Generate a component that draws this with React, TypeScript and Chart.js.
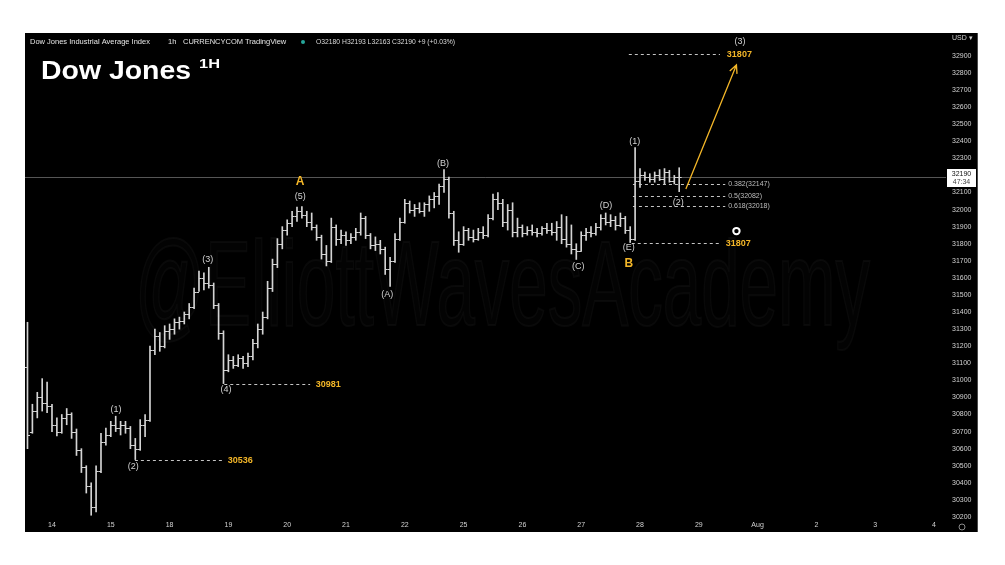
import React, { useEffect, useRef } from 'react';
import { Chart, registerables } from 'chart.js';

Chart.register(...registerables);

// ---------- data ----------
const HOURS_PER_BAR = 2;
const axisDates = ['14', '15', '18', '19', '20', '21', '22', '25', '26', '27', '28', '29', 'Aug', '2', '3', '4'];
const priceTicks = [
  30200, 30300, 30400, 30500, 30600, 30700, 30800, 30900, 31000, 31100,
  31200, 31300, 31400, 31500, 31600, 31700, 31800, 31900, 32000, 32100,
  32200, 32300, 32400, 32500, 32600, 32700, 32800, 32900,
];

// [open, high, low, close]
const jul13 = [
  [31080, 31340, 30600, 30680], [30700, 30860, 30690, 30820], [30820, 30930, 30780, 30900],
  [30900, 31010, 30820, 30870], [30870, 30990, 30810, 30850],
];
const jul14 = [
  [30850, 30860, 30700, 30740], [30740, 30780, 30675, 30700], [30700, 30800, 30690, 30780],
  [30780, 30835, 30740, 30800], [30800, 30810, 30660, 30700], [30700, 30715, 30560, 30590],
  [30590, 30600, 30460, 30490], [30490, 30500, 30340, 30380], [30380, 30400, 30210, 30260],
  [30260, 30500, 30230, 30470], [30470, 30690, 30460, 30640], [30640, 30720, 30620, 30680],
];
const jul15 = [
  [30680, 30760, 30670, 30740], [30740, 30790, 30700, 30720], [30720, 30760, 30680, 30740],
  [30740, 30760, 30690, 30720], [30720, 30730, 30600, 30620], [30620, 30660, 30536, 30600],
  [30600, 30770, 30590, 30740], [30740, 30800, 30670, 30770], [30770, 31200, 30760, 31180],
  [31180, 31300, 31150, 31260], [31260, 31280, 31170, 31200], [31200, 31320, 31190, 31290],
];
const jul18 = [
  [31290, 31330, 31240, 31300], [31300, 31360, 31270, 31340], [31340, 31370, 31300, 31350],
  [31350, 31400, 31330, 31390], [31390, 31450, 31360, 31430], [31430, 31540, 31420, 31520],
  [31520, 31640, 31520, 31600], [31600, 31630, 31530, 31570], [31570, 31662, 31540, 31560],
  [31560, 31570, 31420, 31440], [31440, 31450, 31240, 31280], [31280, 31290, 30981, 31060],
];
const jul19 = [
  [31060, 31150, 31050, 31120], [31120, 31140, 31070, 31090], [31090, 31150, 31080, 31130],
  [31130, 31140, 31070, 31100], [31100, 31160, 31080, 31140], [31140, 31240, 31120, 31220],
  [31220, 31330, 31190, 31300], [31300, 31400, 31270, 31370], [31370, 31580, 31360, 31540],
  [31540, 31710, 31520, 31680], [31680, 31830, 31660, 31800], [31800, 31900, 31770, 31880],
];
const jul20 = [
  [31880, 31940, 31850, 31920], [31920, 31990, 31900, 31960], [31960, 32015, 31930, 31990],
  [31990, 32018, 31950, 31970], [31970, 31990, 31900, 31930], [31930, 31980, 31880, 31900],
  [31900, 31910, 31820, 31840], [31840, 31850, 31710, 31740], [31740, 31790, 31670, 31700],
  [31700, 31950, 31690, 31900], [31900, 31910, 31790, 31830], [31830, 31880, 31800, 31850],
];
const jul21 = [
  [31850, 31870, 31790, 31820], [31820, 31860, 31800, 31840], [31840, 31890, 31820, 31870],
  [31870, 31980, 31850, 31950], [31950, 31960, 31830, 31850], [31850, 31860, 31770, 31790],
  [31790, 31840, 31760, 31800], [31800, 31820, 31740, 31770], [31770, 31780, 31620, 31650],
  [31650, 31720, 31550, 31700], [31700, 31860, 31690, 31830], [31830, 31950, 31820, 31930],
];
const jul22 = [
  [31930, 32060, 31920, 32040], [32040, 32050, 31980, 32000], [32000, 32030, 31960, 32010],
  [32010, 32040, 31980, 31990], [31990, 32040, 31960, 32030], [32030, 32080, 31990, 32060],
  [32060, 32100, 32010, 32080], [32080, 32150, 32030, 32140], [32140, 32234, 32100, 32180],
  [32180, 32190, 31950, 31980], [31980, 31990, 31790, 31820], [31820, 31870, 31750, 31800],
];
const jul25 = [
  [31800, 31900, 31790, 31880], [31880, 31890, 31820, 31840], [31840, 31880, 31810, 31830],
  [31830, 31890, 31820, 31870], [31870, 31900, 31830, 31850], [31850, 31970, 31840, 31950],
  [31950, 32090, 31940, 32060], [32060, 32100, 32000, 32040], [32040, 32060, 31900, 31930],
  [31930, 32030, 31880, 32000], [32000, 32040, 31840, 31870], [31870, 31950, 31840, 31900],
];
const jul26 = [
  [31900, 31910, 31840, 31860], [31860, 31900, 31850, 31880], [31880, 31910, 31850, 31870],
  [31870, 31890, 31840, 31860], [31860, 31900, 31850, 31890], [31890, 31920, 31860, 31880],
  [31880, 31920, 31850, 31870], [31870, 31930, 31820, 31900], [31900, 31970, 31800, 31830],
  [31830, 31960, 31780, 31800], [31800, 31910, 31740, 31770], [31770, 31800, 31708, 31760],
];
const jul27 = [
  [31760, 31870, 31755, 31850], [31850, 31890, 31820, 31870], [31870, 31900, 31840, 31860],
  [31860, 31920, 31850, 31900], [31900, 31970, 31880, 31950], [31950, 31980, 31910, 31930],
  [31930, 31970, 31900, 31940], [31940, 31960, 31880, 31910], [31910, 31980, 31900, 31950],
  [31950, 31960, 31860, 31880], [31880, 31900, 31807, 31830], [31830, 32363, 31820, 32170],
];
const jul28 = [
  [32170, 32240, 32130, 32200], [32200, 32220, 32170, 32190], [32190, 32210, 32160, 32180],
  [32180, 32220, 32160, 32200], [32200, 32234, 32170, 32180], [32180, 32240, 32150, 32220],
  [32220, 32230, 32160, 32170], [32170, 32200, 32150, 32190], [32190, 32245, 32105, 32190],
];

// trading-day index on the axis (0 = Jul 14) and first bar hour
const sessions = [
  { day: -1, firstHour: 14, bars: jul13 },
  { day: 0, firstHour: 0, bars: jul14 },
  { day: 1, firstHour: 0, bars: jul15 },
  { day: 2, firstHour: 0, bars: jul18 },
  { day: 3, firstHour: 0, bars: jul19 },
  { day: 4, firstHour: 0, bars: jul20 },
  { day: 5, firstHour: 0, bars: jul21 },
  { day: 6, firstHour: 0, bars: jul22 },
  { day: 7, firstHour: 0, bars: jul25 },
  { day: 8, firstHour: 0, bars: jul26 },
  { day: 9, firstHour: 0, bars: jul27 },
  { day: 10, firstHour: 0, bars: jul28 },
];

const lastPrice = 32190;
const countdown = '47:34';
const headerParts = ['Dow Jones Industrial Average Index', '1h', 'CURRENCYCOM', 'TradingView'];
const ohlcText = 'O32180 H32193 L32163 C32190 +9 (+0.03%)';

const waveLabels = [
  { text: '(1)', x: 1.09, y: 30827 },
  { text: '(2)', x: 1.38, y: 30494 },
  { text: '(3)', x: 2.65, y: 31708 },
  { text: '(4)', x: 2.96, y: 30949 },
  { text: '(5)', x: 4.22, y: 32076 },
  { text: '(A)', x: 5.70, y: 31504 },
  { text: '(B)', x: 6.65, y: 32269 },
  { text: '(C)', x: 8.95, y: 31668 },
  { text: '(D)', x: 9.42, y: 32024 },
  { text: '(E)', x: 9.81, y: 31779 },
  { text: '(1)', x: 9.91, y: 32398 },
  { text: '(2)', x: 10.65, y: 32041 },
  { text: '(3)', x: 11.70, y: 32982 },
];
const keyLabels = [
  { text: 'A', x: 4.22, y: 32164 },
  { text: 'B', x: 9.81, y: 31685 },
];
const levelLines = [
  { price: 30536, from: 1.41, to: 2.91, label: '30536', labelAt: 3.20 },
  { price: 30981, from: 2.93, to: 4.39, label: '30981', labelAt: 4.70 },
  { price: 31807, from: 9.86, to: 11.39, label: '31807', labelAt: 11.67 },
  { price: 32910, from: 9.81, to: 11.36, label: '31807', labelAt: 11.69 },
];
const fibLevels = [
  { ratio: '0.382', price: 32147 },
  { ratio: '0.5', price: 32082 },
  { ratio: '0.618', price: 32018 },
];
const fibSpan = { from: 9.88, to: 11.45, labelAt: 11.50 };
const projection = { x1: 10.78, y1: 32121, x2: 11.64, y2: 32847 };
const targetMarker = { x: 11.64, y: 31874 };

// ---------- styles ----------
const FONT = '"Liberation Sans", Arial, sans-serif';
const BAR_COLOR = '#d4d4d4';
const TEXT_COLOR = '#d2d2d2';
const YELLOW = '#f3b628';
const X_MIN = -0.459;
const X_MAX = 15.204;
const Y_MIN = 30188;
const Y_MAX = 33034;

const bars = sessions.flatMap((s) =>
  s.bars.map((b, i) => ({
    x: s.day + (s.firstHour + i * HOURS_PER_BAR) / 24,
    o: b[0], h: b[1], l: b[2], c: b[3],
  }))
);

function fitText(ctx: any, text: string, x: number, y: number, width: number) {
  const w = ctx.measureText(text).width;
  ctx.save();
  ctx.translate(x, y);
  ctx.scale(width / w, 1);
  ctx.fillText(text, 0, 0);
  ctx.restore();
}

const overlay = {
  id: 'overlay',
  beforeDatasetsDraw(chart: any) {
    const { ctx, chartArea } = chart;
    const sy = chart.scales.y;
    ctx.save();
    // watermark
    ctx.font = `120px ${FONT}`;
    const wm = '@ElliottWavesAcademy';
    const w = ctx.measureText(wm).width;
    ctx.translate(110, 292);
    ctx.scale(735 / w, 1);
    ctx.textAlign = 'left';
    ctx.textBaseline = 'alphabetic';
    ctx.fillStyle = 'rgba(255,255,255,0.012)';
    ctx.fillText(wm, 0, 0);
    ctx.strokeStyle = 'rgba(255,255,255,0.035)';
    ctx.lineWidth = 2;
    ctx.strokeText(wm, 0, 0);
    ctx.restore();

    // last price line
    ctx.save();
    const py = Math.round(sy.getPixelForValue(lastPrice)) + 0.5;
    ctx.strokeStyle = 'rgba(190,190,190,0.45)';
    ctx.lineWidth = 1;
    ctx.beginPath();
    ctx.moveTo(chartArea.left, py);
    ctx.lineTo(chartArea.right, py);
    ctx.stroke();
    ctx.restore();
  },
  afterDatasetsDraw(chart: any) {
    const { ctx } = chart;
    const sx = chart.scales.x;
    const sy = chart.scales.y;
    const X = (v: number) => sx.getPixelForValue(v);
    const Y = (v: number) => sy.getPixelForValue(v);
    ctx.save();

    // open / close ticks
    ctx.strokeStyle = BAR_COLOR;
    ctx.lineWidth = 1;
    ctx.beginPath();
    bars.forEach((b) => {
      const px = X(b.x);
      const yo = Math.round(Y(b.o)) + 0.5;
      const yc = Math.round(Y(b.c)) + 0.5;
      ctx.moveTo(px - 2.5, yo);
      ctx.lineTo(px, yo);
      ctx.moveTo(px, yc);
      ctx.lineTo(px + 2.5, yc);
    });
    ctx.stroke();

    // dashed level lines
    ctx.setLineDash([3, 3]);
    ctx.strokeStyle = '#c4c4c4';
    ctx.beginPath();
    levelLines.forEach((l) => {
      const yy = Math.round(Y(l.price)) + 0.5;
      ctx.moveTo(X(l.from), yy);
      ctx.lineTo(X(l.to), yy);
    });
    fibLevels.forEach((f) => {
      const yy = Math.round(Y(f.price)) + 0.5;
      ctx.moveTo(X(fibSpan.from), yy);
      ctx.lineTo(X(fibSpan.to), yy);
    });
    ctx.stroke();
    ctx.setLineDash([]);

    // level labels
    ctx.fillStyle = YELLOW;
    ctx.font = `bold 9px ${FONT}`;
    ctx.textAlign = 'center';
    ctx.textBaseline = 'middle';
    levelLines.forEach((l) => ctx.fillText(l.label, X(l.labelAt), Y(l.price) + 0.5));

    // fib labels
    ctx.fillStyle = '#bdbdbd';
    ctx.font = `7px ${FONT}`;
    ctx.textAlign = 'left';
    fibLevels.forEach((f) => ctx.fillText(`${f.ratio}(${f.price})`, X(fibSpan.labelAt), Y(f.price)));

    // wave labels
    ctx.fillStyle = TEXT_COLOR;
    ctx.font = `9px ${FONT}`;
    ctx.textAlign = 'center';
    waveLabels.forEach((w) => ctx.fillText(w.text, X(w.x), Y(w.y)));

    ctx.fillStyle = YELLOW;
    ctx.font = `bold 12px ${FONT}`;
    keyLabels.forEach((k) => ctx.fillText(k.text, X(k.x), Y(k.y)));

    // projection arrow
    const ax1 = X(projection.x1), ay1 = Y(projection.y1);
    const ax2 = X(projection.x2), ay2 = Y(projection.y2);
    ctx.strokeStyle = YELLOW;
    ctx.lineWidth = 1.3;
    ctx.beginPath();
    ctx.moveTo(ax1, ay1);
    ctx.lineTo(ax2, ay2);
    const ang = Math.atan2(ay2 - ay1, ax2 - ax1);
    const head = 9;
    ctx.moveTo(ax2 - head * Math.cos(ang - 0.45), ay2 - head * Math.sin(ang - 0.45));
    ctx.lineTo(ax2, ay2);
    ctx.lineTo(ax2 - head * Math.cos(ang + 0.45), ay2 - head * Math.sin(ang + 0.45));
    ctx.stroke();

    // target marker
    ctx.beginPath();
    ctx.arc(X(targetMarker.x), Y(targetMarker.y), 3.2, 0, Math.PI * 2);
    ctx.fillStyle = '#000';
    ctx.fill();
    ctx.strokeStyle = '#ffffff';
    ctx.lineWidth = 2;
    ctx.stroke();
    ctx.restore();
  },
  afterDraw(chart: any) {
    const { ctx, chartArea } = chart;
    const sy = chart.scales.y;
    ctx.save();
    // header line
    ctx.fillStyle = '#e6e6e6';
    ctx.textBaseline = 'middle';
    ctx.textAlign = 'left';
    ctx.font = `7.5px ${FONT}`;
    const hx = [5, 143, 158, 220];
    headerParts.forEach((t, i) => ctx.fillText(t, hx[i], 9));
    ctx.fillStyle = '#26a69a';
    ctx.beginPath();
    ctx.arc(278, 9, 2, 0, Math.PI * 2);
    ctx.fill();
    ctx.fillStyle = '#dcdcdc';
    ctx.font = `6.5px ${FONT}`;
    fitText(ctx, ohlcText, 291, 9, 139);

    // title
    ctx.fillStyle = '#ffffff';
    ctx.textBaseline = 'alphabetic';
    ctx.font = `bold 25px ${FONT}`;
    fitText(ctx, 'Dow Jones', 16, 46, 150);
    ctx.font = `bold 12px ${FONT}`;
    fitText(ctx, '1H', 174, 35, 21);

    // USD label
    ctx.fillStyle = TEXT_COLOR;
    ctx.font = `7px ${FONT}`;
    ctx.textBaseline = 'middle';
    ctx.fillText('USD \u25BE', chartArea.right + 6, 5);

    // last price box
    const py = sy.getPixelForValue(lastPrice);
    ctx.fillStyle = '#ffffff';
    ctx.fillRect(chartArea.right + 1, Math.round(py) - 8, 29, 18);
    ctx.fillStyle = '#111';
    ctx.textAlign = 'center';
    ctx.font = `7px ${FONT}`;
    ctx.fillText(String(lastPrice), chartArea.right + 15.5, py - 3);
    ctx.fillStyle = '#444';
    ctx.fillText(countdown, chartArea.right + 15.5, py + 5);

    // settings gear
    ctx.strokeStyle = '#8a8a8a';
    ctx.lineWidth = 1;
    ctx.beginPath();
    ctx.arc(chartArea.right + 16, 494, 3, 0, Math.PI * 2);
    ctx.stroke();
    ctx.restore();
  },
};

function noPad(s: any) {
  s.paddingTop = 0;
  s.paddingBottom = 0;
  s.paddingLeft = 0;
  s.paddingRight = 0;
}

export default function App() {
  const ref = useRef<HTMLCanvasElement>(null);
  useEffect(() => {
    const chart = new Chart(ref.current as HTMLCanvasElement, {
      type: 'bar',
      data: {
        datasets: [
          {
            data: bars.map((b) => ({ x: b.x, y: [b.l, b.h] })) as any,
            backgroundColor: BAR_COLOR,
            borderWidth: 0,
            barThickness: 1,
            grouped: false,
          } as any,
        ],
      },
      options: {
        animation: false,
        responsive: false,
        devicePixelRatio: 1,
        layout: { padding: 0 },
        plugins: { legend: { display: false }, tooltip: { enabled: false } },
        scales: {
          x: {
            type: 'linear',
            offset: false,
            min: X_MIN,
            max: X_MAX,
            grid: { display: false, drawTicks: false, offset: false },
            border: { display: false },
            afterBuildTicks: (s: any) => {
              s.ticks = axisDates.map((_, i) => ({ value: i }));
            },
            afterFit: (s: any) => {
              s.height = 13;
              noPad(s);
            },
            ticks: {
              autoSkip: false,
              maxRotation: 0,
              padding: 2,
              color: TEXT_COLOR,
              font: { size: 7, family: FONT },
              callback: (_v: any, i: number) => axisDates[i],
            },
          },
          y: {
            position: 'right',
            min: Y_MIN,
            max: Y_MAX,
            grid: { display: false, drawTicks: false },
            border: { display: false },
            afterBuildTicks: (s: any) => {
              s.ticks = priceTicks.map((v) => ({ value: v }));
            },
            afterFit: (s: any) => {
              s.width = 31;
              noPad(s);
            },
            ticks: {
              padding: 6,
              color: TEXT_COLOR,
              font: { size: 7, family: FONT },
              callback: (v: any) => String(v),
            },
          },
        },
      } as any,
      plugins: [overlay],
    });
    return () => chart.destroy();
  }, []);
  return (
    <div style={{ position: 'absolute', left: 0, top: 0, width: 1005, height: 565, background: '#fff' }}>
      <div
        style={{
          position: 'absolute', left: 25, top: 33, width: 952, height: 499,
          background: '#000', borderRight: '1px solid #4a4a4a',
        }}
      >
        <canvas ref={ref} width={952} height={499} style={{ display: 'block', width: 952, height: 499 }} />
      </div>
    </div>
  );
}
